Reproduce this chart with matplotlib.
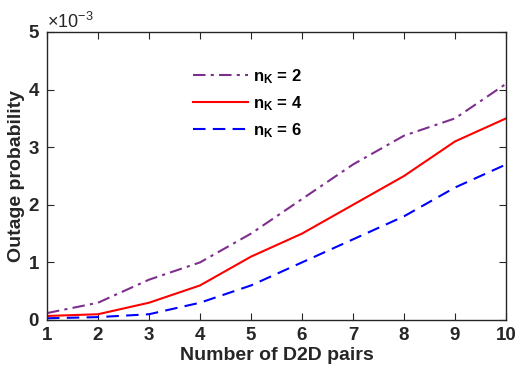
import numpy as np
import matplotlib
matplotlib.use('Agg')
import matplotlib.pyplot as plt
from matplotlib.ticker import ScalarFormatter

plt.rcParams['font.family'] = ['Liberation Sans', 'DejaVu Sans']
plt.rcParams['font.weight'] = 'bold'
plt.rcParams['mathtext.default'] = 'regular'

pairs = [1, 2, 3, 4, 5, 6, 7, 8, 9, 10]
nk2 = [0.12, 0.3, 0.7, 1.0, 1.5, 2.1, 2.7, 3.2, 3.5, 4.1]
nk4 = [0.07, 0.1, 0.3, 0.6, 1.1, 1.5, 2.0, 2.5, 3.1, 3.5]
nk6 = [0.03, 0.05, 0.1, 0.3, 0.6, 1.0, 1.4, 1.8, 2.3, 2.7]
labels = ['$n_K$ = 2', '$n_K$ = 4', '$n_K$ = 6']

scale = 1e-3
fig = plt.figure(figsize=(5.15, 3.66), dpi=100)
ax = fig.add_axes([47/515, 1-320/366, 459/515, 288/366])

ax.plot(pairs, np.array(nk2)*scale, color='#7E2F8E', lw=1.5, dashes=[6, 2.5, 1.5, 2.5], label=labels[0])
ax.plot(pairs, np.array(nk4)*scale, '-', color='red', lw=1.5, label=labels[1])
ax.plot(pairs, np.array(nk6)*scale, color='blue', lw=1.5, dashes=[6, 3.5], label=labels[2])

ax.set_xlim(1, 10)
ax.set_ylim(0, 5e-3)
ax.set_xticks(pairs)
ax.set_yticks(np.arange(0, 6)*scale)
fmt = ScalarFormatter(useMathText=True)
fmt.set_powerlimits((-2, 2))
ax.yaxis.set_major_formatter(fmt)
ax.yaxis.get_offset_text().set_fontsize(13)
ax.yaxis.get_offset_text().set_fontweight('normal')

ax.tick_params(direction='in', top=True, right=True, labelsize=13.5, length=5,
               color='#262626', labelcolor='#262626', pad=5)
for s in ax.spines.values():
    s.set_color('#262626')
    s.set_linewidth(1.0)

ax.set_xlabel('Number of D2D pairs', fontsize=14, fontweight='bold', color='#262626', labelpad=2)
ax.set_ylabel('Outage probability', fontsize=14, fontweight='bold', color='#262626', labelpad=2)

leg = ax.legend(loc='upper left', bbox_to_anchor=(0.285, 0.93), frameon=False,
                handlelength=3.3, handletextpad=0.3, labelspacing=0.5,
                prop={'weight': 'bold', 'size': 12})

fig.savefig('out.png', dpi=100)
